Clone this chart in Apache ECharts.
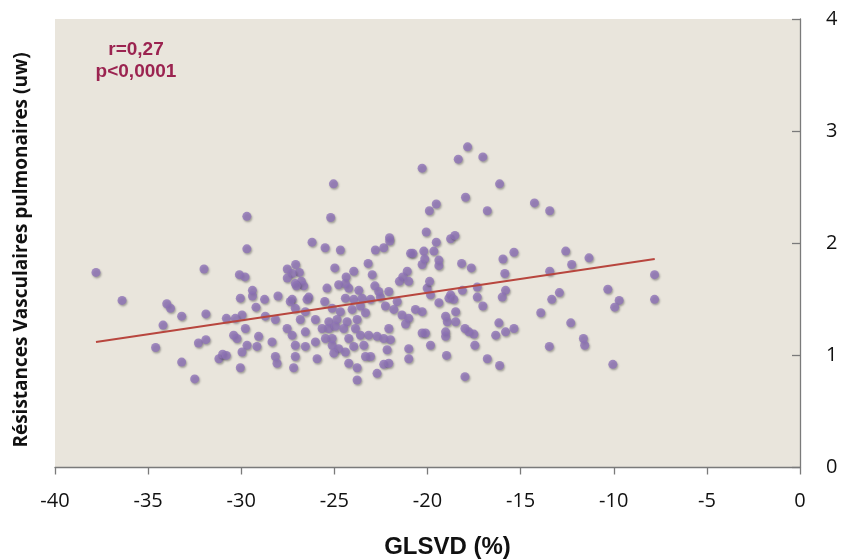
<!DOCTYPE html>
<html>
<head>
<meta charset="utf-8">
<script src="https://cdn.jsdelivr.net/npm/echarts@6/dist/echarts.min.js"></script>
<style>
  html, body { margin: 0; padding: 0; background: #ffffff; }
  #chart { width: 843px; height: 559px; }
</style>
</head>
<body>
<div id="chart"></div>
<script>
// GLSVD (%) on x, pulmonary vascular resistance (uw) on y
const glsvd = [
  -37.8, -36.4, -32.0, -34.0, -33.8, -33.2, -31.9, -34.2, -34.6, -33.2, -32.5, -32.3, -31.9, -31.2, -31.0, -30.8, -30.8,
  -29.7, -29.7, -26.2, -25.5, -25.2, -30.1, -29.8,
  -27.53, -27.08, -26.88, -27.27, -27.53, -27.10, -26.77, -26.65, -27.04, -25.4,
  -29.4, -29.4, -30.05, -28.75, -28.03, -27.27, -26.38,
  -29.21, -27.37, -27.10, -26.47, -26.56, -25.52, -29.96, -30.32,
  -29.78, -28.71, -28.17, -27.54, -27.27, -26.83, -26.56, -26.02, -25.66, -25.48, -30.41, -30.23, -29.07, -28.35,
  -29.69, -29.16, -27.10, -26.56, -26.02, -29.96, -30.05, -28.17, -28.08, -27.10, -27.19, -25.93,
  -20.29, -25.05, -19.9, -20.07, -24.68, -22.80, -22.35, -22.04, -22.03, -20.91, -20.79, -20.20, -20.15, -20.29,
  -23.19, -22.97, -24.98, -23.96, -24.37, -21.09, -21.33, -21.51, -21.01, -24.77, -24.41, -24.23, -23.69, -22.83,
  -22.62, -22.08, -20.02,
  -24.41, -23.96, -23.51, -23.06, -22.53, -21.63,
  -25.12, -24.68, -24.05, -23.60, -23.33, -22.26, -21.81, -20.65, -20.29, -21.37, -21.01,
  -25.30, -24.86, -24.32, -23.78, -21.18,
  -25.30, -24.95, -24.50, -23.87, -22.08,
  -23.60, -23.16, -22.71, -22.35, -21.99,
  -25.12, -25.12, -24.23, -24.77, -23.96, -23.42,
  -20.29, -21.01, -22.17,
  -25.03, -24.41, -23.33, -23.06, -21.01,
  -24.23, -23.78, -22.35, -22.08, -22.71, -23.78,
  -17.85, -18.35, -17.03, -16.13, -17.96, -19.53, -16.79, -14.26, -19.53, -18.76, -18.53, -19.66, -19.39, -19.39,
  -18.17, -17.65, -15.95, -15.36, -15.85, -19.89, -18.76, -18.13, -17.33, -15.81, -15.99, -17.33,
  -19.84, -19.39, -18.85, -18.59, -17.03, -18.49, -19.03, -18.94, -18.49, -20.11, -19.03, -19.03, -17.99, -17.78,
  -17.51, -16.17, -16.34, -15.81, -15.36, -19.84, -17.46, -18.98, -16.79, -16.13, -17.99, -13.92,
  -13.44, -12.58, -11.33, -12.26, -13.44, -7.81, -10.32, -12.92, -13.33, -9.71, -9.95, -7.81, -12.31, -11.63,
  -11.56, -13.46, -10.05
];
const resistance = [
  1.74, 1.49, 1.77, 1.46, 1.42, 1.35, 1.37, 1.27, 1.07, 0.94, 0.79, 1.11, 1.14, 0.97, 1.01, 1.00, 1.33,
  2.24, 1.95, 2.01, 1.96, 2.23, 1.72, 1.70,
  1.77, 1.81, 1.74, 1.73, 1.69, 1.64, 1.66, 1.62, 1.62, 1.60,
  1.58, 1.53, 1.51, 1.50, 1.53, 1.50, 1.52,
  1.43, 1.48, 1.42, 1.50, 1.39, 1.48, 1.36, 1.33,
  1.24, 1.35, 1.32, 1.24, 1.18, 1.32, 1.21, 1.32, 1.24, 1.15, 1.18, 1.15, 1.17, 1.12,
  1.09, 1.08, 1.09, 1.08, 1.12, 1.03, 0.89, 0.99, 0.93, 0.99, 0.89, 0.97,
  2.67, 2.53, 2.29, 2.10, 1.94, 1.94, 1.96, 2.05, 2.02, 1.91, 1.91, 1.93, 1.86, 1.81,
  1.82, 1.72, 1.78, 1.75, 1.70, 1.75, 1.70, 1.66, 1.66, 1.63, 1.64, 1.60, 1.58, 1.62,
  1.57, 1.57, 1.60,
  1.51, 1.50, 1.51, 1.50, 1.52, 1.48,
  1.42, 1.39, 1.41, 1.44, 1.38, 1.44, 1.41, 1.41, 1.39, 1.36, 1.33,
  1.30, 1.32, 1.30, 1.32, 1.28,
  1.24, 1.26, 1.24, 1.24, 1.24,
  1.18, 1.18, 1.17, 1.15, 1.14,
  1.15, 1.09, 1.15, 1.06, 1.08, 1.09,
  1.20, 1.06, 1.05,
  1.02, 1.03, 0.99, 0.99, 0.97,
  0.93, 0.89, 0.92, 0.93, 0.84, 0.78,
  2.86, 2.75, 2.77, 2.53, 2.41, 2.35, 2.29, 2.36, 2.01, 2.04, 2.07, 1.93, 1.85, 1.80,
  1.82, 1.78, 1.86, 1.92, 1.73, 1.66, 1.54, 1.58, 1.61, 1.58, 1.52, 1.52,
  1.54, 1.47, 1.51, 1.50, 1.44, 1.39, 1.35, 1.30, 1.30, 1.20, 1.21, 1.17, 1.24, 1.21,
  1.19, 1.29, 1.18, 1.21, 1.24, 1.09, 1.09, 1.00, 0.97, 0.91, 0.81, 1.38,
  2.29, 1.93, 1.87, 1.81, 1.75, 1.72, 1.59, 1.56, 1.50, 1.49, 1.43, 1.50, 1.29, 1.15,
  1.09, 1.08, 0.92
];

// linear trend line end points
const trendX = [-37.8, -7.8];
const trendY = [1.12, 1.86];

const xTicks = { min: -40, max: 0, interval: 5 };
const yTicks = { min: 0, max: 4, interval: 1 };

const annotation = ['r=0,27', 'p<0,0001'];

const points = glsvd.map((x, i) => [x, resistance[i]]);
const trend = trendX.map((x, i) => [x, trendY[i]]);

const chart = echarts.init(document.getElementById('chart'), null, { renderer: 'canvas' });

chart.setOption({
  backgroundColor: '#ffffff',
  animation: false,
  grid: {
    left: 55, right: 43, top: 19, bottom: 91.5,
    containLabel: false,
    outerBoundsMode: 'none',
    show: true,
    backgroundColor: '#e9e5dc',
    borderWidth: 0
  },
  xAxis: {
    type: 'value',
    min: xTicks.min, max: xTicks.max, interval: xTicks.interval,
    name: 'GLSVD (%)',
    nameLocation: 'middle',
    nameGap: 68,
    nameTextStyle: {
      fontFamily: 'Liberation Sans', fontWeight: 'bold', fontSize: 24, color: '#111',
      padding: [0, 0, 0, 40]
    },
    axisLine: { show: true, onZero: false, lineStyle: { color: '#7a7a7a', width: 1.3 } },
    axisTick: { show: true, inside: false, length: 7, lineStyle: { color: '#7a7a7a', width: 1.3 } },
    axisLabel: { margin: 24, fontFamily: 'Open Sans', fontSize: 20, color: '#111' },
    splitLine: { show: false }
  },
  yAxis: {
    type: 'value',
    position: 'right',
    min: yTicks.min, max: yTicks.max, interval: yTicks.interval,
    axisLine: { show: true, onZero: false, lineStyle: { color: '#7a7a7a', width: 1.3 } },
    axisTick: { show: true, inside: true, length: 8, lineStyle: { color: '#7a7a7a', width: 1.3 } },
    axisLabel: { margin: 26, fontFamily: 'Open Sans', fontSize: 20, color: '#111' },
    splitLine: { show: false }
  },
  graphic: [
    {
      type: 'text',
      x: 22, y: 250,
      rotation: Math.PI / 2,
      style: {
        text: 'Résistances Vasculaires pulmonaires (uw)',
        fontFamily: 'Open Sans', fontWeight: 'bold', fontSize: 19, fill: '#111',
        align: 'center', verticalAlign: 'middle'
      }
    },
    {
      type: 'text',
      x: 136, y: 50,
      style: {
        text: annotation[0],
        fontFamily: 'Liberation Sans', fontWeight: 'bold', fontSize: 19, fill: '#9b2350',
        align: 'center', verticalAlign: 'middle'
      }
    },
    {
      type: 'text',
      x: 136, y: 72,
      style: {
        text: annotation[1],
        fontFamily: 'Liberation Sans', fontWeight: 'bold', fontSize: 19, fill: '#9b2350',
        align: 'center', verticalAlign: 'middle'
      }
    }
  ],
  series: [
    {
      type: 'scatter',
      data: points,
      symbol: 'circle',
      symbolSize: 9,
      itemStyle: {
        color: '#8f73b8',
        shadowColor: 'rgba(40,40,40,0.45)',
        shadowBlur: 2,
        shadowOffsetX: 1,
        shadowOffsetY: 1.5
      },
      z: 2
    },
    {
      type: 'line',
      data: trend,
      symbol: 'none',
      lineStyle: { color: '#b8463e', width: 2 },
      z: 3
    }
  ]
});
</script>
</body>
</html>
